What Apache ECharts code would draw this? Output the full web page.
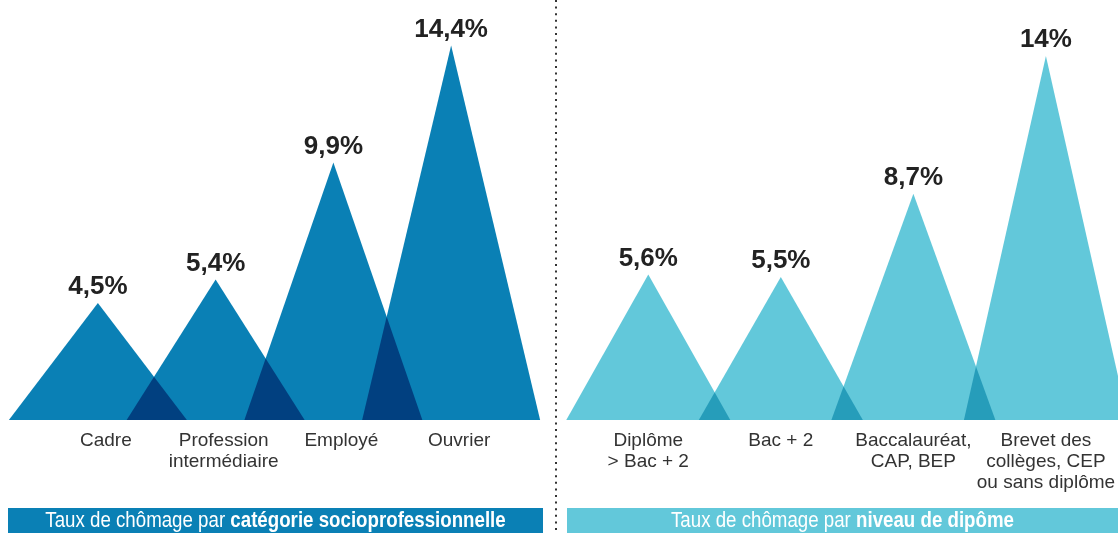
<!DOCTYPE html>
<html>
<head>
<meta charset="utf-8">
<script src="https://cdn.jsdelivr.net/npm/echarts@6/dist/echarts.min.js"></script>
<style>
  html, body { margin: 0; padding: 0; background: #fff; }
  #chart { width: 1118px; height: 533px; }
</style>
</head>
<body>
<div id="chart"></div>
<script>
// taux de chômage (%)
const csp = ["Cadre", "Profession\nintermédiaire", "Employé", "Ouvrier"];
const cspRates = [4.5, 5.4, 9.9, 14.4];

const diplomes = ["Diplôme\n> Bac + 2", "Bac + 2", "Baccalauréat,\nCAP, BEP", "Brevet des\ncollèges, CEP\nou sans diplôme"];
const diplomeRates = [5.6, 5.5, 8.7, 14];

const darkBlue = "#0a80b5";
const lightBlue = "#62c8da";
const font = "'Liberation Sans', Arial, sans-serif";

const chart = echarts.init(document.getElementById("chart"));

function pct(p) {
  return String(p.value).replace(".", ",") + "%";
}

function xAxisFor(idx, cats, pad) {
  return {
    type: "category",
    gridIndex: idx,
    data: cats,
    axisLine: { show: false },
    axisTick: { show: false },
    axisLabel: {
      interval: 0,
      color: "#333",
      fontSize: 19,
      lineHeight: 21,
      fontFamily: font,
      margin: 10,
      padding: pad,
    },
  };
}

function yAxisFor(idx) {
  return { type: "value", gridIndex: idx, min: 0, max: 16, show: false };
}

function seriesFor(idx, values, color, width) {
  return {
    type: "pictorialBar",
    xAxisIndex: idx,
    yAxisIndex: idx,
    data: values,
    symbol: "triangle",
    symbolSize: [width, "100%"],
    blendMode: "multiply",
    itemStyle: { color: color },
    label: {
      show: true,
      position: "top",
      distance: 3,
      formatter: pct,
      color: "#222",
      fontSize: 26,
      fontWeight: "bold",
      fontFamily: font,
    },
    z: 2,
  };
}

// bandeau du bas, texte resserré à l'horizontale
function footer(x, w, color, lead, bold) {
  return {
    type: "group",
    children: [
      { type: "rect", shape: { x: x, y: 508, width: w, height: 30 }, style: { fill: color } },
      {
        type: "text",
        x: x + w / 2,
        y: 521,
        scaleX: 0.85,
        style: {
          text: "{a|" + lead + "}{b|" + bold + "}",
          align: "center",
          verticalAlign: "middle",
          rich: {
            a: { fill: "#fff", fontSize: 22, fontFamily: font },
            b: { fill: "#fff", fontSize: 22, fontWeight: "bold", fontFamily: font },
          },
        },
      },
    ],
  };
}

chart.setOption({
  backgroundColor: "#fff",
  animation: false,
  grid: [
    { left: 39, top: 4, width: 471, height: 416 },
    { left: 582, top: 4, width: 531, height: 416 },
  ],
  xAxis: [xAxisFor(0, csp, [0, 0, 0, 16]), xAxisFor(1, diplomes, 0)],
  yAxis: [yAxisFor(0), yAxisFor(1)],
  series: [
    seriesFor(0, cspRates, darkBlue, 178),
    seriesFor(1, diplomeRates, lightBlue, 164),
  ],
  graphic: [
    {
      type: "line",
      shape: { x1: 556, y1: 0, x2: 556, y2: 533 },
      style: { stroke: "#333", lineWidth: 2, lineDash: [2, 4.6] },
    },
    footer(8, 535, darkBlue, "Taux de chômage par ", "catégorie socioprofessionnelle"),
    footer(567, 551, lightBlue, "Taux de chômage par ", "niveau de dipôme"),
  ],
});
</script>
</body>
</html>
